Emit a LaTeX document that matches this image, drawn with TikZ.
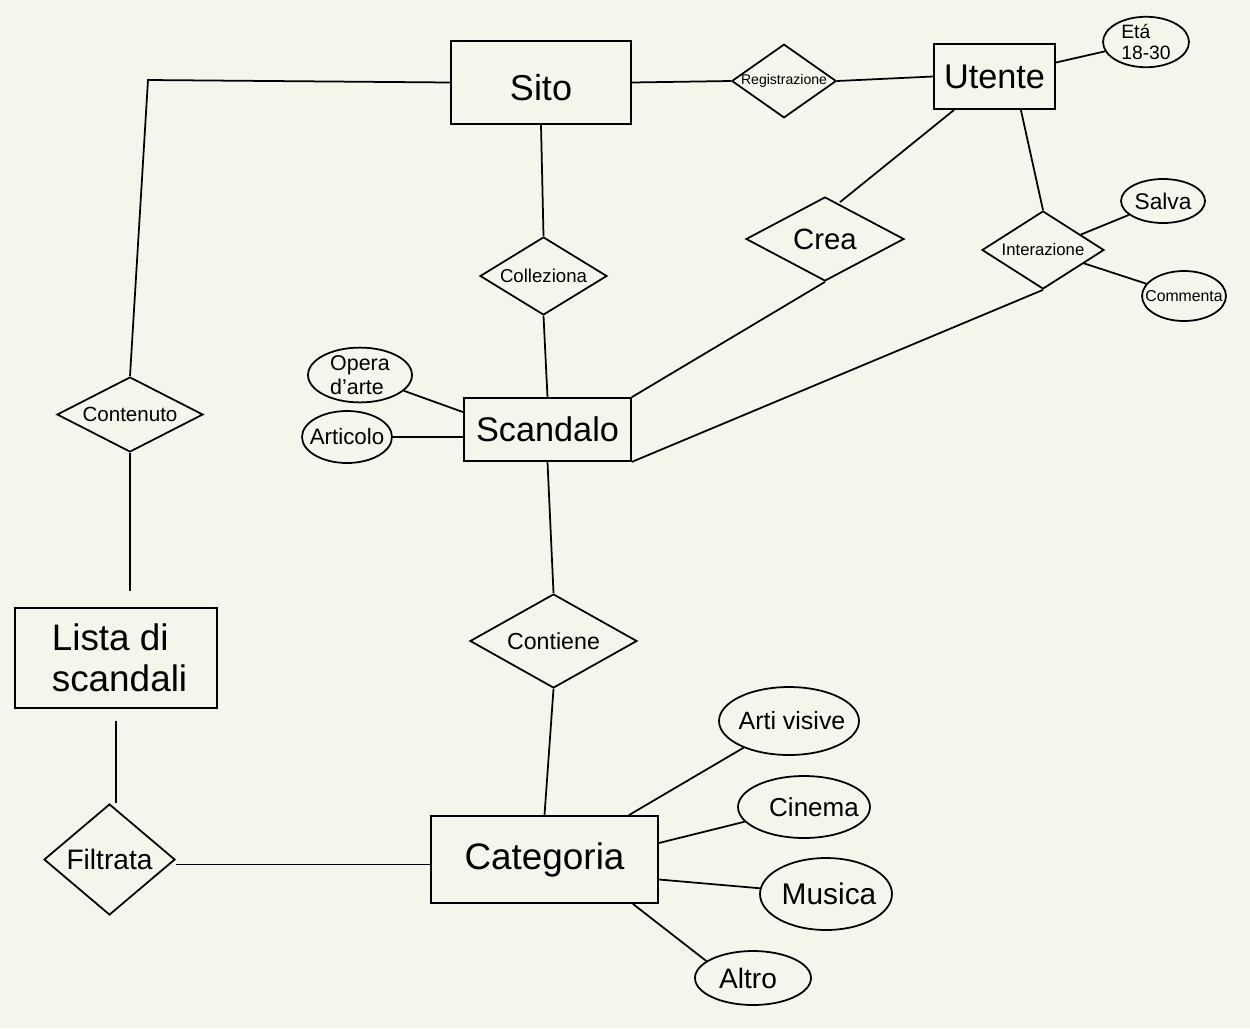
\documentclass[tikz,border=0pt]{standalone}
\usepackage{fontspec}
\setmainfont{Liberation Sans}
\usepackage{tikz}
\usetikzlibrary{shapes.geometric}
\definecolor{paper}{RGB}{246,245,235}
\newcommand{\fsz}[1]{\fontsize{#1}{1.1\dimexpr#1pt\relax}\selectfont}
\newcommand{\att}[2][0pt]{\makebox[0pt]{\hspace*{#1}#2}}

\begin{document}
\begin{tikzpicture}[x=0.02cm,y=-0.02cm,line width=1pt,
    entity/.style={draw,rectangle,inner sep=0pt},
    relation/.style={draw,diamond,inner sep=0pt},
    attr/.style={draw,ellipse,inner sep=0pt}]
    \fill[paper] (0,0) rectangle (1250,1028);
    \useasboundingbox (0,0) rectangle (1250,1028);
    % entita
    \node[entity,minimum width=3.6cm,minimum height=1.66cm,font=\fsz{20.5},text height=0.74cm,text depth=0pt] (sito) at (541,82.5) {Sito};
    \node[entity,minimum width=2.42cm,minimum height=1.3cm,font=\fsz{19.5}] (utente) at (994.5,76.5) {Utente};
    \node[entity,minimum width=3.34cm,minimum height=1.26cm,font=\fsz{19.5}] (scandalo) at (547.5,429.5) {Scandalo};
    \node[entity,minimum width=4.04cm,minimum height=2cm,font=\fsz{21},align=left] (lista) at (116,658) {\hspace*{0.14cm}Lista di\\\hspace*{0.14cm}scandali};
    \node[entity,minimum width=4.54cm,minimum height=1.74cm,font=\fsz{21}] (categoria) at (544.5,859.5) {Categoria};
    % relazioni
    \node[relation,aspect=1.42,minimum width=2.04cm,minimum height=1.44cm,font=\fsz{8}] (registrazione) at (784,81) {Registrazione};
    \node[relation,aspect=1.95,minimum width=2.92cm,minimum height=1.5cm,font=\fsz{11.7}] (contenuto) at (130,414.5) {Contenuto};
    \node[relation,aspect=1.63,minimum width=2.54cm,minimum height=1.56cm,font=\fsz{10.6}] (colleziona) at (543.5,276) {Colleziona};
    \node[relation,aspect=1.88,minimum width=3.16cm,minimum height=1.68cm,font=\fsz{16.7}] (crea) at (825,239) {Crea};
    \node[relation,aspect=1.56,minimum width=2.44cm,minimum height=1.56cm,font=\fsz{9.5}] (interazione) at (1043,250) {Interazione};
    \node[relation,aspect=1.78,minimum width=3.34cm,minimum height=1.88cm,font=\fsz{13.2}] (contiene) at (553.5,641) {Contiene};
    \node[relation,aspect=1.18,minimum width=2.62cm,minimum height=2.22cm,font=\fsz{16}] (filtrata) at (109.5,859.5) {Filtrata};
    % attributi
    \node[attr,minimum width=1.72cm,minimum height=0.88cm,font=\fsz{11},align=left] (eta) at (1146,42) {Etá\\18-30};
    \node[attr,minimum width=1.68cm,minimum height=0.88cm,font=\fsz{12.9}] (salva) at (1163,201) {\att{Salva}};
    \node[attr,minimum width=1.68cm,minimum height=1cm,font=\fsz{9}] (commenta) at (1184,296) {\att{Commenta}};
    \node[attr,minimum width=2.08cm,minimum height=1.04cm,font=\fsz{12.2},align=left] (opera) at (360,375) {Opera\\d’arte};
    \node[attr,minimum width=1.8cm,minimum height=1.04cm,font=\fsz{12.7}] (articolo) at (347,437) {\att{Articolo}};
    \node[attr,minimum width=2.8cm,minimum height=1.36cm,font=\fsz{14.2}] (arti) at (789,721) {\att[0.12cm]{Arti visive}};
    \node[attr,minimum width=2.64cm,minimum height=1.24cm,font=\fsz{14.8}] (cinema) at (804,807) {\att[0.4cm]{Cinema}};
    \node[attr,minimum width=2.64cm,minimum height=1.44cm,font=\fsz{17}] (musica) at (826,894) {\att[0.12cm]{Musica}};
    \node[attr,minimum width=2.32cm,minimum height=1.08cm,font=\fsz{16}] (altro) at (753,978) {\att[-0.2cm]{Altro}};
    \coordinate (bend) at (148,80);
    % collegamenti
    \draw (sito.east) -- (registrazione.west);
    \draw (registrazione.east) -- (utente.west);
    \draw (utente) -- (eta);
    \draw (sito.west) -- (bend) -- (contenuto.north);
    \draw (contenuto.south) -- ([yshift=0.32cm]contenuto.south |- lista.north);
    \draw ([yshift=-0.24cm]lista.south) -- (lista.south |- filtrata.north);
    \draw ([yshift=-0.1cm]filtrata.east) -- ([yshift=-0.1cm]categoria.west);
    \draw (sito.south) -- (colleziona.north);
    \draw (colleziona.south) -- (scandalo.north);
    \draw (scandalo.south) -- (contiene.north);
    \draw (contiene.south) -- (categoria.north);
    \draw (opera) -- ([yshift=-0.3cm]scandalo.north west);
    \draw (articolo.east) -- (articolo.east -| scandalo.west);
    \draw ([xshift=0.42cm]utente.south west) -- ([xshift=0.3cm,yshift=-0.12cm]crea.north);
    \draw (crea.south) -- (scandalo.north east);
    \draw ([xshift=-0.7cm]utente.south east) -- (interazione.north);
    \draw (interazione) -- (salva);
    \draw (interazione) -- (commenta);
    \draw (interazione.south) -- (scandalo.south east);
    \draw ([xshift=-0.6cm]categoria.north east) -- (arti);
    \draw ([yshift=0.33cm]categoria.east) -- (cinema);
    \draw ([yshift=-0.4cm]categoria.east) -- (musica);
    \draw ([xshift=-0.52cm]categoria.south east) -- (altro.160);
\end{tikzpicture}
\end{document}
